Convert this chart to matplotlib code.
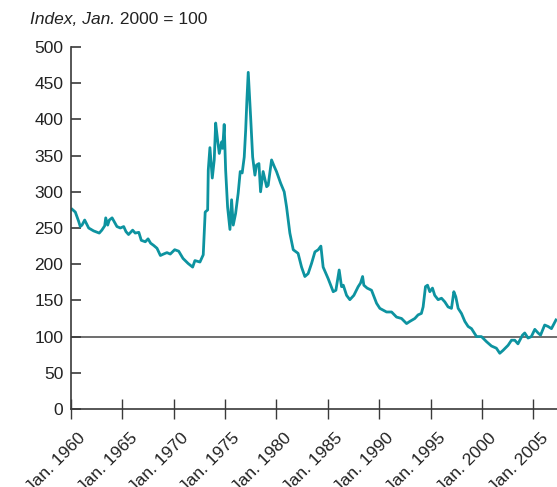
import numpy as np
import matplotlib
matplotlib.use("Agg")
import matplotlib.pyplot as plt
from matplotlib.transforms import ScaledTranslation

plt.rcParams['font.family'] = ['Liberation Sans', 'DejaVu Sans']

# decimal years and index values
years = [1960.1, 1960.42, 1960.75, 1960.9, 1961.07, 1961.33, 1961.72, 1962.2, 1962.75, 1963.0,
         1963.28, 1963.38, 1963.57, 1963.73, 1964.0, 1964.2, 1964.47, 1964.8, 1965.13, 1965.35,
         1965.6, 1966.0, 1966.25, 1966.6, 1966.84, 1967.23, 1967.5, 1967.75, 1968.04, 1968.37,
         1968.7, 1969.0, 1969.34, 1969.66, 1970.09, 1970.48, 1970.73, 1970.9, 1971.4, 1971.84,
         1972.06, 1972.55, 1972.87, 1973.06, 1973.3, 1973.36, 1973.52, 1973.75, 1973.94, 1974.08,
         1974.27, 1974.43, 1974.66, 1974.76, 1974.91, 1975.05, 1975.24, 1975.47, 1975.63, 1975.79,
         1976.02, 1976.27, 1976.47, 1976.66, 1976.86, 1977.0, 1977.12, 1977.25, 1977.48, 1977.68,
         1977.9, 1978.06, 1978.29, 1978.45, 1978.7, 1979.04, 1979.19, 1979.52, 1979.78, 1980.0,
         1980.4, 1980.75, 1980.98, 1981.3, 1981.63, 1982.1, 1982.44, 1982.76, 1983.08, 1983.41,
         1983.74, 1984.06, 1984.32, 1984.54, 1985.03, 1985.52, 1985.78, 1986.1, 1986.33, 1986.5,
         1986.82, 1987.14, 1987.53, 1987.95, 1988.18, 1988.38, 1988.5, 1988.82, 1989.25, 1989.74,
         1990.06, 1990.71, 1991.2, 1991.68, 1992.17, 1992.66, 1992.98, 1993.46, 1993.78, 1994.1,
         1994.27, 1994.5, 1994.7, 1994.92, 1995.18, 1995.4, 1995.73, 1996.06, 1996.38, 1996.7,
         1997.03, 1997.26, 1997.45, 1997.68, 1998.0, 1998.33, 1998.65, 1998.98, 1999.47, 1999.95,
         2000.44, 2000.92, 2001.4, 2001.73, 2002.05, 2002.54, 2002.87, 2003.19, 2003.5, 2003.94,
         2004.16, 2004.48, 2004.8, 2005.14, 2005.46, 2005.7, 2006.1, 2006.43, 2006.76, 2007.2]
index = [276, 272, 259, 252, 254, 261, 250, 246, 243, 247,
         253, 264, 254, 261, 264, 259, 252, 250, 252, 245,
         241, 247, 243, 244, 233, 231, 235, 229, 226, 222,
         212, 214, 216, 214, 220, 218, 212, 208, 201, 196,
         205, 203, 213, 272, 275, 330, 361, 319, 344, 395,
         371, 353, 369, 360, 393, 330, 279, 248, 289, 254,
         270, 298, 328, 326, 348, 385, 427, 465, 404, 348,
         323, 337, 339, 300, 328, 307, 309, 344, 335, 328,
         312, 300, 279, 243, 220, 215, 196, 183, 187, 201,
         217, 220, 225, 196, 180, 162, 164, 192, 169, 171,
         157, 151, 157, 169, 174, 183, 171, 167, 164, 146,
         139, 134, 134, 127, 125, 118, 121, 125, 130, 132,
         141, 169, 171, 162, 167, 157, 151, 153, 148, 141,
         139, 162, 155, 139, 132, 121, 114, 111, 100, 100,
         93, 87, 84, 77, 81, 88, 95, 95, 90, 102,
         105, 98, 100, 110, 105, 102, 116, 114, 111, 123]

tick_years = [1960, 1965, 1970, 1975, 1980, 1985, 1990, 1995, 2000, 2005]
tick_labels = ['Jan. %d' % y for y in tick_years]
y_ticks = [0, 50, 100, 150, 200, 250, 300, 350, 400, 450, 500]

fig = plt.figure(figsize=(5.57, 4.87), dpi=100)
ax = fig.add_axes([71 / 557, 78 / 487, 1 - 71 / 557, 362 / 487])

axis_col = '#3a3a3a'
text_col = '#222222'
ax.axhline(100, color='#555555', lw=1.2, zorder=1)
ax.plot(years, index, color='#0d93a0', lw=2.0, zorder=2)

ax.set_xlim(1960, 2007.3)
ax.set_ylim(0, 500)
ax.set_yticks(y_ticks)
ax.set_xticks(tick_years)
ax.set_xticklabels(tick_labels, rotation=45, ha='right', rotation_mode='anchor')

for s in ['top', 'right']:
    ax.spines[s].set_visible(False)
for s in ['left', 'bottom']:
    ax.spines[s].set_color(axis_col)
    ax.spines[s].set_linewidth(1.2)

ax.tick_params(axis='y', direction='in', length=7, width=1.2, color=axis_col,
               labelsize=12.5, labelcolor=text_col, pad=5.5)
ax.tick_params(axis='x', direction='inout', length=14, width=1.0, color=axis_col,
               labelsize=12.5, labelcolor=text_col, pad=2)

# nudge the rotated labels right and down like the original
shift = ScaledTranslation(0.07, -0.09, fig.dpi_scale_trans)
for lab in ax.get_xticklabels():
    lab.set_transform(lab.get_transform() + shift)

t1 = fig.text(30 / 557, 1 - 20 / 487, 'Index, Jan.', fontsize=12.5, style='italic',
              color=text_col, va='center', ha='left')
ax.annotate(' 2000 = 100', xy=(1, 0), xycoords=t1, va='bottom', ha='left',
            fontsize=12.5, color=text_col, annotation_clip=False)

fig.savefig('out.png', dpi=100)
